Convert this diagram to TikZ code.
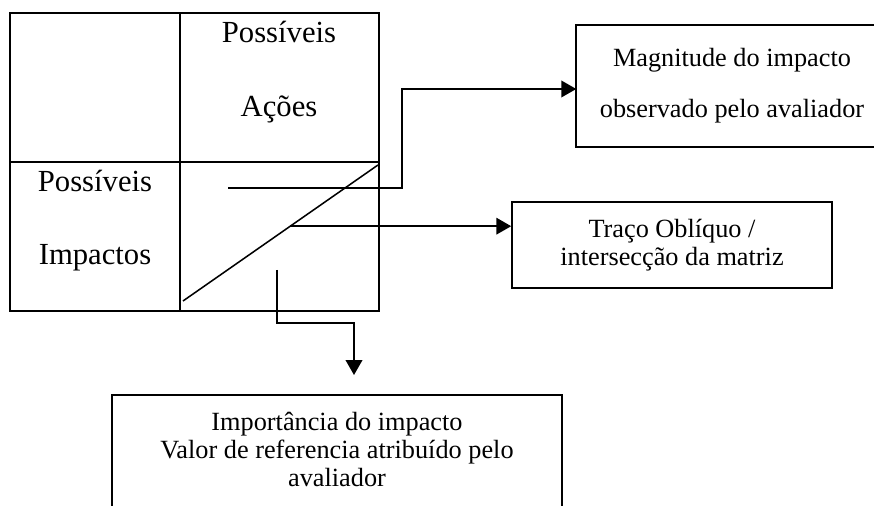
\documentclass[tikz,border=0pt]{standalone}
\usepackage{fontspec}
\setmainfont{Liberation Serif}
\usetikzlibrary{arrows.meta,calc,positioning}

\tikzset{
  >={Triangle[length=6.8pt,width=7.6pt]},
  lbl/.style={anchor=base, inner sep=0pt, font=\fontsize{14}{16}\selectfont},
  infobox/.style={draw, align=center, inner sep=0pt, font=\fontsize{12}{13}\selectfont},
}

\begin{document}
\begin{tikzpicture}[x=0.4565pt, y=-0.4565pt, line width=0.7pt]
    \useasboundingbox (0,0) rectangle (874,506);
    % matrix
    \draw (10,13) rectangle (379,311);
    \draw (180,13) -- (180,311);
    \draw (10,162) -- (379,162);
    \coordinate (diagA) at (183,301);
    \coordinate (diagB) at (378,165);
    \draw (diagA) -- (diagB);
    \node[lbl] (acoesA) at (279,43) {Possíveis};
    \node[lbl] (acoesB) at (279,117) {Ações};
    \node[lbl] (impactA) at (95,192) {Possíveis};
    \node[lbl] (impactB) at (95,265) {Impactos};
    % boxes (the ones cut by the page edge run on past it)
    \node[infobox, draw=none, minimum width=141.5pt, minimum height=54.8pt,
          font=\fontsize{12}{23.3}\selectfont] (mag) at (732,86)
          {Magnitude do impacto\\observado pelo avaliador};
    \draw (mag.north west) rectangle ($(mag.south east)+(80,0)$);
    \node[infobox, minimum width=146.1pt, minimum height=39.3pt] (trc) at (672,245)
          {Traço Oblíquo /\\intersecção da matriz};
    \node[infobox, draw=none, anchor=north, minimum width=204.5pt, inner ysep=7.6pt,
          font=\fontsize{12}{12.8}\selectfont] (imp) at (337,395)
          {Importância do impacto\\Valor de referencia atribuído pelo\\avaliador};
    \draw (imp.north west) rectangle ($(imp.south east)+(0,60)$);
    % connectors
    \coordinate (magstart) at (228,188);
    \coordinate (magbend) at (402,89);
    \draw[->] (magstart) -| (magbend) -- (mag.west |- magbend);
    \coordinate (trcstart) at ($(diagA)!0.55!(diagB)$);
    \draw[->] (trcstart) -- (trc.west |- trcstart);
    \coordinate (impstart) at (277,270);
    \coordinate (imptip) at (354,375);
    \draw[->] (impstart) |- (354,323) -- (imptip);
\end{tikzpicture}
\end{document}
